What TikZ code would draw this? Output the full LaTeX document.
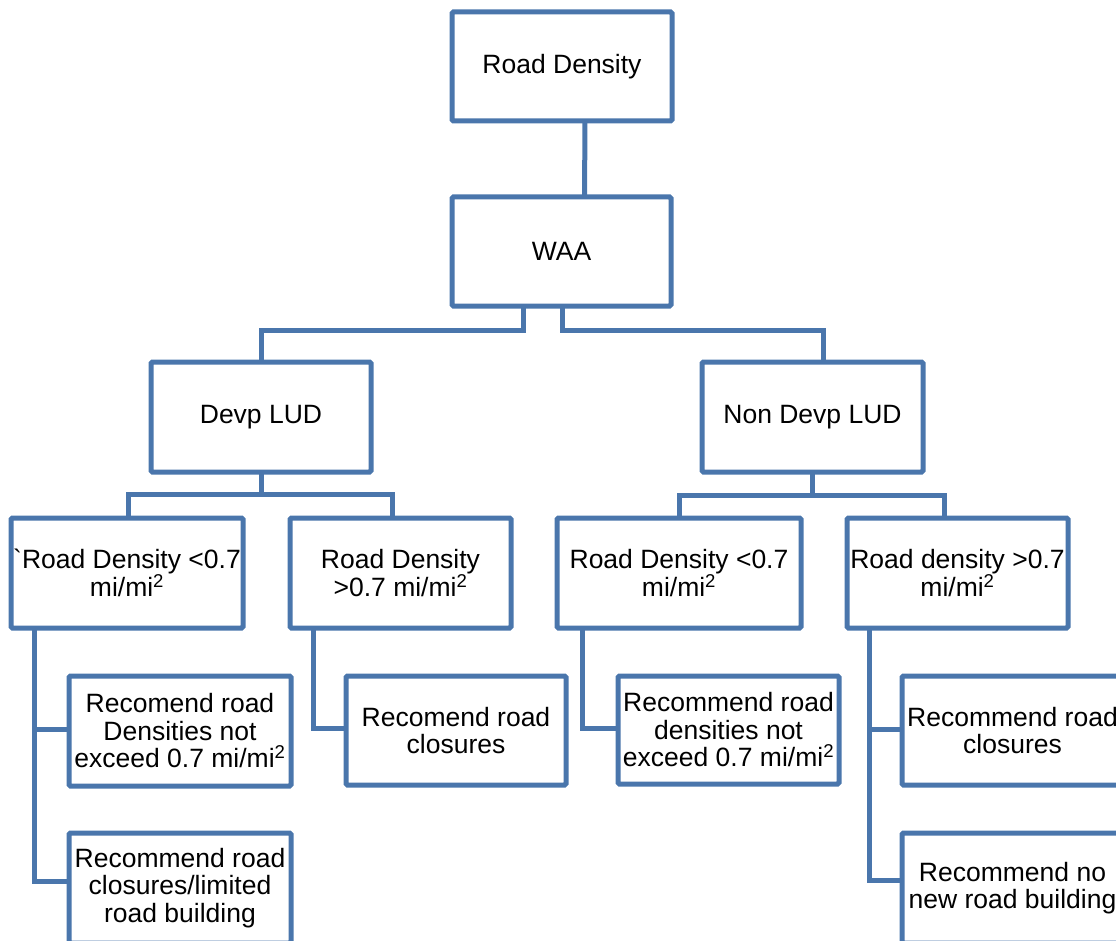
\documentclass[tikz,border=0pt]{standalone}
\usepackage{fontspec}
\setmainfont{Liberation Sans}
\definecolor{boxblue}{RGB}{74,118,172}
\begin{document}
\begin{tikzpicture}[x=1pt,y=-1pt,
  box/.style={draw=boxblue, line width=5pt, fill=white, rounded corners=1.5pt,
    inner sep=0pt, outer sep=0pt, align=center,
    font=\fontsize{26.5}{27.5}\selectfont},
  link/.style={draw=boxblue, line width=5pt}]
\useasboundingbox (0,0) rectangle (1116,941);
\clip (0,0) rectangle (1116,941);

% top of the tree
\node[box, minimum width=220pt, minimum height=109pt] (rd)    at (562,66.5)  {Road Density};
\node[box, minimum width=219pt, minimum height=109pt] (waa)   at (561.5,251.5) {WAA};
\node[box, minimum width=220pt, minimum height=110pt] (devp)  at (261,417)   {Devp LUD};
\node[box, minimum width=221pt, minimum height=110pt] (ndevp) at (812.5,417) {Non Devp LUD};

% density classes
\node[box, minimum width=232pt, minimum height=110pt] (a) at (127,573)   {\textasciigrave Road Density <0.7\\mi/mi\textsuperscript{2}};
\node[box, minimum width=221pt, minimum height=110pt] (b) at (400.5,573) {Road Density\\>0.7 mi/mi\textsuperscript{2}};
\node[box, minimum width=244pt, minimum height=110pt] (c) at (679,573)   {Road Density <0.7\\mi/mi\textsuperscript{2}};
\node[box, minimum width=221pt, minimum height=110pt] (d) at (957.5,573) {Road density >0.7\\mi/mi\textsuperscript{2}};

% recommendations
\node[box, minimum width=222pt, minimum height=110pt] (a1) at (180,731)    {Recomend road\\Densities not\\exceed 0.7 mi/mi\textsuperscript{2}};
\node[box, minimum width=222pt, minimum height=110pt] (a2) at (180,888)    {Recommend road\\closures/limited\\road building};
\node[box, minimum width=220pt, minimum height=109pt] (b1) at (456,730.5)  {Recomend road\\closures};
\node[box, minimum width=221pt, minimum height=108pt] (c1) at (728.5,730)  {Recommend road\\densities not\\exceed 0.7 mi/mi\textsuperscript{2}};
\node[box, minimum width=221pt, minimum height=109pt] (d1) at (1012.5,730.5) {Recommend road\\closures};
\node[box, minimum width=221pt, minimum height=110pt] (d2) at (1012.5,888)  {Recommend no\\new road building};

% connectors
\draw[link] ([xshift=23pt]rd.south) -- ([xshift=23pt]waa.north);
\draw[link] ([xshift=-38.5pt]waa.south) |- ([yshift=32pt]devp.north) -- (devp.north);
\draw[link] ([xshift=0.5pt]waa.south) |- ([xshift=10.5pt,yshift=32pt]ndevp.north) -- ([xshift=10.5pt]ndevp.north);

\draw[link] (devp.south) |- ([xshift=1pt,yshift=24pt]a.north) -- ([xshift=1pt]a.north);
\draw[link] (devp.south) |- ([xshift=-8.5pt,yshift=24pt]b.north) -- ([xshift=-8.5pt]b.north);
\draw[link] (ndevp.south) |- ([yshift=23pt]c.north) -- (c.north);
\draw[link] (ndevp.south) |- ([xshift=-13.5pt,yshift=23pt]d.north) -- ([xshift=-13.5pt]d.north);

\draw[link] ([xshift=-93pt]a.south) |- ([yshift=2pt]a1.west);
\draw[link] ([xshift=-93pt]a.south) |- ([yshift=7pt]a2.west);
\draw[link] ([xshift=-87.5pt]b.south) |- ([yshift=2.5pt]b1.west);
\draw[link] ([xshift=-97pt]c.south) |- ([yshift=2pt]c1.west);
\draw[link] ([xshift=-88.5pt]d.south) |- ([yshift=1.5pt]d1.west);
\draw[link] ([xshift=-88.5pt]d.south) |- ([yshift=8pt]d2.west);
\end{tikzpicture}
\end{document}
